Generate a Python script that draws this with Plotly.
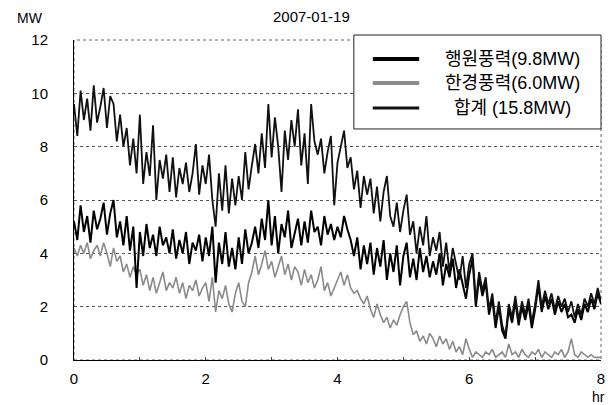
import plotly.graph_objects as go

# time axis in hours (3-minute steps)
hours = [round(i * 0.05, 2) for i in range(161)]

# 합계 (15.8MW) - total output, MW
total_mw = [
    9.6, 8.4, 10.1, 9.0, 9.8, 8.6, 10.3, 8.9, 9.5, 10.2,
    8.7, 9.9, 9.6, 8.2, 9.2, 8.0, 8.7, 7.3, 8.3, 7.0,
    9.2, 6.6, 7.8, 6.9, 8.8, 6.0, 7.5, 6.8, 7.7, 6.3,
    7.6, 6.1, 7.2, 6.6, 7.4, 6.3, 7.0, 8.1, 6.2, 7.3,
    6.6, 7.7, 6.0, 5.0, 7.0, 5.6, 7.3, 5.5, 6.8, 5.8,
    6.9, 6.0, 7.8, 6.4, 7.3, 8.1, 7.0, 8.5, 7.2, 9.6,
    7.6, 9.1, 8.0, 6.3, 8.6, 7.5, 9.0, 8.0, 9.4, 7.3,
    8.5, 6.6, 9.6, 8.2, 7.7, 8.3, 7.0, 7.8, 8.4, 5.8,
    7.4, 8.0, 8.6, 7.2, 7.6, 6.4, 7.1, 5.7, 6.9, 6.2,
    6.8, 5.5, 6.5, 5.2, 6.3, 6.9, 5.4, 5.0, 5.9, 4.8,
    5.6, 6.2, 4.7, 5.2, 4.0, 5.0, 4.3, 5.4, 3.9, 4.6,
    4.1, 4.8, 3.5, 4.4, 3.3, 4.2, 3.6, 3.0, 3.9, 2.7,
    3.6, 4.0, 2.2, 3.3, 2.6, 3.1, 1.9, 2.5, 1.4, 2.2,
    1.3, 0.9, 2.1, 1.6, 2.4, 1.5, 2.2, 1.7, 2.3, 1.4,
    2.1, 3.0, 2.0, 2.6, 2.1, 2.5, 1.9, 2.4, 2.0, 2.3,
    1.8, 2.2, 1.6, 2.1, 1.7, 2.3, 2.0, 2.5, 2.1, 2.7,
    2.2,
]

# 행원풍력 (9.8MW), MW
haengwon_mw = [
    5.2, 4.5, 5.8, 4.8, 5.4, 4.4, 5.6, 4.9, 5.3, 5.9,
    4.7, 5.5, 6.0, 4.6, 5.2, 4.3, 5.4, 4.1, 5.0, 2.7,
    4.8, 3.9, 5.1, 4.2, 4.7, 3.9, 5.0, 4.3, 4.6, 4.0,
    4.9, 3.8, 4.5, 4.0, 4.8, 3.6, 4.4, 4.1, 4.7, 3.7,
    4.6, 3.9, 5.0, 2.9, 4.4, 3.6, 4.8, 3.5, 4.2, 3.4,
    4.6, 3.6, 4.9, 4.0, 4.4, 5.0, 4.2, 5.3, 4.5, 6.0,
    4.3, 5.4, 4.0, 5.1, 4.6, 5.6, 4.2, 4.8, 5.3, 4.3,
    5.2, 4.4, 5.6, 4.8, 5.0, 4.3, 5.4, 4.7, 5.1, 4.5,
    5.0, 4.6, 5.4, 4.9, 4.5, 3.9, 4.6, 3.4, 4.3, 3.6,
    4.4, 3.2, 4.2, 3.5, 4.5, 3.0, 4.0, 3.3, 4.3, 2.8,
    3.9, 4.4, 3.1, 3.8, 3.0, 4.2, 3.3, 3.9, 3.1, 3.7,
    3.2, 4.0, 2.8, 3.6, 3.1, 3.8, 2.7, 3.4, 2.9, 2.3,
    3.2, 3.8, 2.0, 3.1, 2.4, 2.9, 1.7, 2.3, 1.2, 2.0,
    1.1, 0.8, 1.9, 1.4, 2.2, 1.3, 2.0, 1.5, 2.1, 1.2,
    1.9, 2.8, 1.8, 2.4, 1.9, 2.3, 1.7, 2.2, 1.8, 2.1,
    1.6, 1.7, 1.4, 1.9, 1.5, 2.1, 1.8, 2.3, 1.9, 2.5,
    2.1,
]

# 한경풍력 (6.0MW), MW
hangyeong_mw = [
    4.2, 3.9, 4.3, 4.0, 4.4, 3.8, 4.1, 4.3, 3.9, 4.4,
    4.0, 3.5, 4.2, 3.7, 3.9, 3.3, 3.6, 3.1, 3.5, 3.2,
    3.4, 2.8, 3.2, 2.6, 3.1, 2.5, 2.9, 3.3, 2.6, 2.9,
    2.7, 3.1, 2.5, 2.9, 2.3, 2.8, 2.6, 3.0, 2.4, 2.7,
    2.9, 2.2, 3.1, 1.8, 2.6, 2.3, 2.8, 2.1, 1.8, 2.5,
    2.9, 2.2, 2.0, 2.9, 3.3, 3.9, 3.2, 3.6, 4.1, 3.4,
    3.7, 3.1, 3.5, 3.9, 3.2, 3.6, 3.0, 3.5, 3.3, 2.8,
    3.4, 2.9, 3.2, 2.7, 3.0, 3.5, 2.6, 2.9, 2.4, 2.7,
    3.0, 3.3, 2.8, 3.2, 2.7, 2.5, 2.6, 2.3, 2.1, 2.4,
    1.9, 1.6, 2.1, 1.7, 1.4, 1.6, 1.2, 1.5, 1.3, 1.7,
    2.0, 2.2, 1.4, 0.95, 1.1, 0.7, 0.9, 0.6, 1.0, 0.8,
    0.5, 0.9, 0.6, 0.8, 0.4, 0.7, 0.3, 0.5, 0.2, 0.8,
    0.4, 0.1, 0.3, 0.2, 0.1, 0.3, 0.2, 0.4, 0.1, 0.2,
    0.3, 0.1, 0.6, 0.2, 0.3, 0.1, 0.4, 0.2, 0.1, 0.3,
    0.2, 0.4, 0.1, 0.3, 0.2, 0.1, 0.3, 0.2, 0.4, 0.1,
    0.3, 0.8, 0.2, 0.1, 0.3, 0.2, 0.1, 0.2, 0.1, 0.1,
    0.1,
]

series_names = ["행원풍력(9.8MW)", "한경풍력(6.0MW)", "합계 (15.8MW)"]
series_colors = ["#000000", "#8a8a8a", "#111111"]
x_ticks = [0, 2, 4, 6, 8]
y_ticks = [0, 2, 4, 6, 8, 10, 12]
chart_title = "2007-01-19"

FONT = "Arial, 'Liberation Sans', 'Noto Sans CJK KR', sans-serif"

fig = go.Figure()
# draw order: 한경 below, then 행원, then 합계
fig.add_trace(go.Scatter(x=hours, y=hangyeong_mw, mode="lines", name=series_names[1],
                         line=dict(color=series_colors[1], width=1.6), showlegend=False))
fig.add_trace(go.Scatter(x=hours, y=haengwon_mw, mode="lines", name=series_names[0],
                         line=dict(color=series_colors[0], width=2.0), showlegend=False))
fig.add_trace(go.Scatter(x=hours, y=total_mw, mode="lines", name=series_names[2],
                         line=dict(color=series_colors[2], width=1.8), showlegend=False))

# legend box (drawn as shapes + text, in paper coordinates of the plot area)
shapes = [
    dict(type="rect", xref="paper", yref="paper", x0=0, x1=1, y0=0, y1=1,
         line=dict(color="#666", width=1, dash="dot"), layer="below"),
    dict(type="rect", xref="paper", yref="paper", x0=0.531, x1=1.0, y0=0.722, y1=1.0156,
         line=dict(color="#222", width=1), fillcolor="white", layer="above"),
]
annotations = []
legend_rows = [0.9406, 0.8656, 0.7875]
legend_widths = [4, 4, 3]
for name, color, yrow, lw in zip(series_names, series_colors, legend_rows, legend_widths):
    shapes.append(dict(type="line", xref="paper", yref="paper", x0=0.567, x1=0.655,
                       y0=yrow, y1=yrow, line=dict(color=color, width=lw), layer="above"))
    annotations.append(dict(text=name, xref="paper", yref="paper", x=0.8324, y=yrow,
                            showarrow=False, xanchor="center", yanchor="middle",
                            font=dict(size=18, family=FONT, color="black")))

annotations += [
    dict(text=chart_title, xref="paper", yref="paper", x=0.45, y=1.072,
         showarrow=False, font=dict(size=15), xanchor="center", yanchor="middle"),
    dict(text="MW", xref="paper", yref="paper", x=-0.083, y=1.07,
         showarrow=False, font=dict(size=14), xanchor="center", yanchor="middle"),
    dict(text="hr", xref="paper", yref="paper", x=0.996, y=-0.116,
         showarrow=False, font=dict(size=14), xanchor="center", yanchor="middle"),
]

fig.update_layout(
    width=611, height=405,
    margin=dict(l=74, r=6, t=40, b=45),
    paper_bgcolor="white", plot_bgcolor="white",
    font=dict(family=FONT, size=15, color="black"),
    showlegend=False,
    xaxis=dict(
        range=[0, 8], tickvals=x_ticks, ticks="inside", ticklen=3,
        tickcolor="#444", showline=True, linecolor="black", linewidth=1,
        showgrid=False, zeroline=False, ticklabelstandoff=5,
        minor=dict(dtick=1, ticks="inside", ticklen=3, tickcolor="#444"),
        tickfont=dict(size=15),
    ),
    yaxis=dict(
        range=[0, 12], tickvals=y_ticks, ticks="", showline=True,
        linecolor="black", linewidth=1, showgrid=True, griddash="dot",
        gridcolor="#555", gridwidth=1, zeroline=False, ticklabelstandoff=22,
        tickfont=dict(size=15),
    ),
    shapes=shapes,
    annotations=annotations,
)

# remove the default 8px page margin so the 611x405 figure fills the window exactly
fig.write_html("out.html",
               config={"displayModeBar": False},
               post_script="document.body.style.margin='0';document.body.style.padding='0';")
